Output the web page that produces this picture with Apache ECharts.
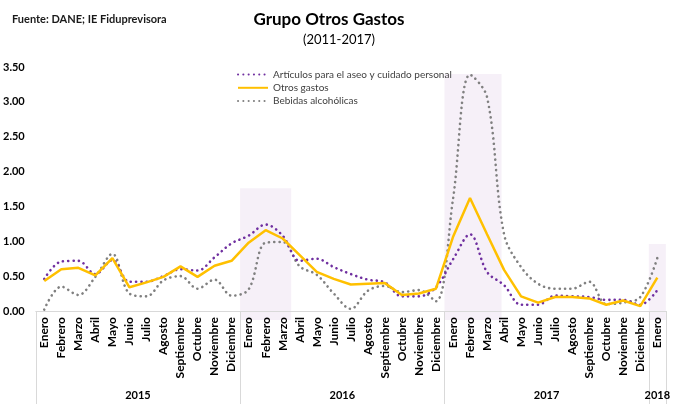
<!DOCTYPE html>
<html>
<head>
<meta charset="utf-8">
<script src="https://cdn.jsdelivr.net/npm/echarts@6/dist/echarts.min.js"></script>
<style>
html,body{margin:0;padding:0;background:#fff;}
#chart{width:673px;height:404px;}
</style>
</head>
<body>
<div id="chart"></div>
<script>
// ---- Data ----
const monthNames = ['Enero','Febrero','Marzo','Abril','Mayo','Junio','Julio','Agosto','Septiembre','Octubre','Noviembre','Diciembre'];
const years = ['2015','2016','2017','2018'];
const monthsPerYear = [12, 12, 12, 1];

const aseo = [0.46,0.71,0.72,0.53,0.73,0.42,0.42,0.50,0.60,0.58,0.77,0.97,
              1.08,1.24,1.08,0.72,0.75,0.63,0.53,0.45,0.41,0.21,0.21,0.34,
              0.74,1.10,0.56,0.37,0.09,0.09,0.22,0.21,0.20,0.16,0.16,0.09,
              0.30];
const otros = [0.43,0.60,0.62,0.51,0.76,0.34,0.41,0.49,0.64,0.49,0.65,0.72,
               0.98,1.16,1.04,0.80,0.56,0.46,0.38,0.39,0.40,0.23,0.25,0.32,
               1.06,1.62,1.10,0.59,0.21,0.12,0.20,0.20,0.18,0.09,0.15,0.07,
               0.48];
const bebidas = [0.02,0.35,0.23,0.49,0.82,0.25,0.21,0.44,0.50,0.32,0.45,0.22,
                 0.31,0.98,0.99,0.64,0.52,0.25,0.03,0.29,0.36,0.27,0.30,0.14,
                 1.60,3.39,3.07,1.10,0.63,0.39,0.32,0.32,0.42,0.10,0.12,0.20,
                 0.76];

// shaded periods (in category-index units) and their heights
const shadeFrom = [11.5, 23.5, 35.5];
const shadeTo   = [14.5, 26.85, 36.5];
const shadeTop  = [1.76, 3.40, 0.96];
const shadeBottom = -0.13;

const yTicks = [0, 0.5, 1, 1.5, 2, 2.5, 3, 3.5];

// ---- Build categories ----
const monthCats = [];
const yearCats = [];
const groupStart = [];
const yearLabelIdx = {};
years.forEach((y, yi) => {
  groupStart.push(monthCats.length);
  for (let m = 0; m < monthsPerYear[yi]; m++) {
    monthCats.push(monthNames[m]);
    yearCats.push(y);
  }
});
years.forEach((y, yi) => {
  const start = groupStart[yi];
  const n = monthsPerYear[yi];
  const idx = n > 1 ? start + n / 2 - 1 : start;
  yearLabelIdx[idx] = { text: y, even: n > 1 };
});

const FONT = 'Lato';
const chart = echarts.init(document.getElementById('chart'), null, {renderer: 'canvas'});

const dotted = (color) => ({color: color, width: 2.6, type: [0.1, 5.2], cap: 'round'});

chart.setOption({
  animation: false,
  backgroundColor: '#ffffff',
  textStyle: {fontFamily: FONT},
  title: [
    {text: 'Fuente: DANE; IE Fiduprevisora', left: 7, top: 9,
     textStyle: {fontFamily: FONT, fontSize: 11, fontWeight: 'bold', color: '#1a1a1a'}},
    {text: 'Grupo Otros Gastos', left: 324, top: 6, textAlign: 'center',
     textStyle: {fontFamily: FONT, fontSize: 17, fontWeight: 'bold', color: '#000'}},
    {text: '(2011-2017)', left: 334, top: 28, textAlign: 'center',
     textStyle: {fontFamily: FONT, fontSize: 13, fontWeight: 'normal', color: '#000'}}
  ],
  legend: {
    orient: 'vertical', left: 232, top: 64,
    itemWidth: 30, itemHeight: 14, itemGap: 2,
    itemStyle: {opacity: 0},
    textStyle: {fontFamily: FONT, fontSize: 10, color: '#404040'},
    data: ['Artículos para el aseo y cuidado personal', 'Otros gastos', 'Bebidas alcohólicas']
  },
  grid: {left: 33, right: 4, top: 67, bottom: 93, containLabel: false},
  xAxis: [
    {
      type: 'category', data: monthCats, position: 'bottom', boundaryGap: true,
      axisLine: {show: true, lineStyle: {color: '#d9d9d9', width: 1}},
      axisTick: {show: false},
      axisLabel: {rotate: 90, interval: 0, margin: 6, fontFamily: FONT, fontSize: 12,
                  fontWeight: 'bold', color: '#000'},
      splitLine: {show: false}
    },
    {
      type: 'category', data: yearCats, position: 'bottom', boundaryGap: true,
      axisLine: {show: false},
      axisTick: {show: true, length: 93, alignWithLabel: false,
                 interval: (i) => groupStart.indexOf(i) >= 0,
                 lineStyle: {color: '#d9d9d9', width: 1}},
      axisLabel: {
        interval: (i) => yearLabelIdx[i] !== undefined,
        margin: 79, fontFamily: FONT, fontSize: 11, fontWeight: 'bold', color: '#000',
        formatter: (v, i) => {
          const e = yearLabelIdx[i];
          if (!e) return '';
          return e.even ? '{g|' + e.text + '}' : '{s|' + e.text + '}';
        },
        rich: {
          g: {padding: [0, 0, 0, 17], fontFamily: FONT, fontSize: 11, fontWeight: 'bold', color: '#000'},
          s: {fontFamily: FONT, fontSize: 11, fontWeight: 'bold', color: '#000'}
        }
      },
      splitLine: {show: false}
    },
    {
      type: 'value', show: false, min: -0.5, max: monthCats.length - 0.5, position: 'top',
      splitLine: {show: false}
    }
  ],
  yAxis: {
    type: 'value', min: yTicks[0], max: yTicks[yTicks.length - 1], interval: yTicks[1] - yTicks[0],
    axisLine: {show: false}, axisTick: {show: false}, splitLine: {show: false},
    axisLabel: {margin: 11, fontFamily: FONT, fontSize: 11, fontWeight: 'bold', color: '#000',
                formatter: (v) => v.toFixed(2)}
  },
  series: [
    {
      type: 'custom', name: 'shade', xAxisIndex: 2, yAxisIndex: 0, z: -1, silent: true,
      data: shadeFrom.map((f, i) => [f, shadeTo[i], shadeTop[i]]),
      encode: {x: [0, 1], y: 2},
      renderItem: (params, api) => {
        const p0 = api.coord([api.value(0), api.value(2)]);
        const p1 = api.coord([api.value(1), shadeBottom]);
        return {type: 'rect',
                shape: {x: p0[0], y: p0[1], width: p1[0] - p0[0], height: p1[1] - p0[1]},
                style: {fill: '#f6f0f8'}};
      }
    },
    {
      type: 'line', name: 'Artículos para el aseo y cuidado personal', data: aseo,
      xAxisIndex: 0, symbol: 'none', smooth: 0.35, z: 3,
      lineStyle: dotted('#7030a0'), itemStyle: {color: '#7030a0'}
    },
    {
      type: 'line', name: 'Otros gastos', data: otros,
      xAxisIndex: 0, symbol: 'none', smooth: false, z: 4,
      lineStyle: {color: '#ffc000', width: 2.5}, itemStyle: {color: '#ffc000'}
    },
    {
      type: 'line', name: 'Bebidas alcohólicas', data: bebidas,
      xAxisIndex: 0, symbol: 'none', smooth: 0.35, z: 2,
      lineStyle: dotted('#808080'), itemStyle: {color: '#808080'}
    }
  ]
});
</script>
</body>
</html>
